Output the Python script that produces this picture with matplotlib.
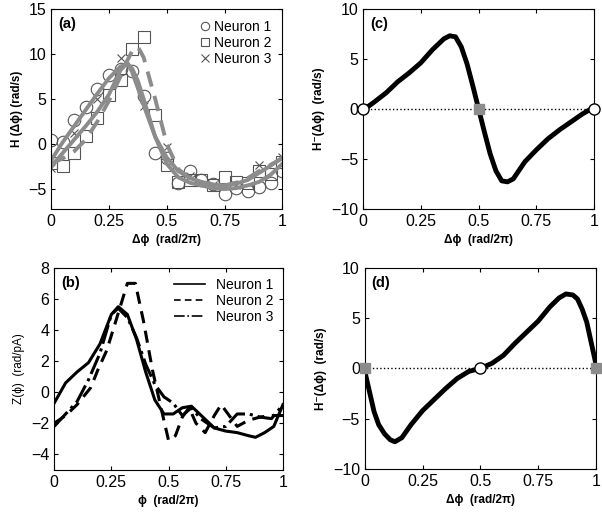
import numpy as np
import matplotlib
matplotlib.use("Agg")
import matplotlib.pyplot as plt

plt.rcParams['font.family'] = ['Liberation Sans', 'DejaVu Sans']
plt.rcParams['font.size'] = 10

# ---- panel (a): measured H and fits ----
a_x1 = [0, 0.05, 0.1, 0.15, 0.2, 0.25, 0.3, 0.35, 0.4, 0.45, 0.5, 0.55, 0.6, 0.65, 0.7, 0.75, 0.8, 0.85, 0.9, 0.95, 1.0]
a_n1 = [0.4, 0.2, 2.7, 4.1, 6.1, 7.7, 8.3, 8.1, 5.3, -1.0, -1.6, -4.3, -3.0, -4.0, -4.4, -5.5, -4.9, -5.2, -4.8, -4.3, -3.0]
a_n2 = [-2.1, -2.4, -1.0, 0.9, 2.9, 5.4, 7.1, 10.5, 11.9, 3.2, -2.3, -4.2, -4.0, -4.0, -4.5, -3.7, -4.2, -4.3, -3.0, -3.3, -2.0]
a_x3 = [0, 0.1, 0.2, 0.3, 0.4, 0.5, 0.6, 0.7, 0.8, 0.9, 1.0]
a_n3 = [-2.7, 1.2, 5.0, 9.5, 4.2, -0.3, -3.6, -4.5, -4.6, -2.3, -1.4]

fit_x = [0, 0.05, 0.1, 0.15, 0.2, 0.25, 0.3, 0.33, 0.35, 0.375, 0.4, 0.45, 0.5, 0.55, 0.6, 0.65, 0.7, 0.75, 0.8, 0.85, 0.9, 0.95, 1.0]
fit1 = [-1.8, 0.2, 2.0, 3.8, 5.6, 7.3, 8.6, 8.9, 8.4, 7.0, 5.0, 0.8, -2.2, -3.7, -4.3, -4.6, -4.9, -5.0, -4.9, -4.6, -4.2, -3.4, -2.2]
fit2 = [-2.2, -1.6, -0.8, 0.5, 2.5, 4.8, 7.5, 9.3, 10.3, 10.8, 9.6, 5.0, 0.0, -2.8, -3.8, -4.3, -4.5, -4.6, -4.3, -3.8, -3.0, -2.3, -1.6]
fit3 = [-2.5, -1.0, 0.5, 2.0, 3.6, 5.5, 8.2, 9.0, 8.0, 6.2, 4.3, 0.8, -1.5, -3.0, -3.8, -4.2, -4.5, -4.6, -4.4, -4.0, -3.2, -2.4, -1.5]

# ---- panel (b): PRCs ----
b_x1 = [0, 0.05, 0.1, 0.15, 0.2, 0.25, 0.28, 0.32, 0.36, 0.4, 0.44, 0.48, 0.52, 0.56, 0.6, 0.65, 0.7, 0.75, 0.8, 0.85, 0.88, 0.92, 0.96, 1.0]
b_n1 = [-0.7, 0.6, 1.3, 1.9, 3.1, 5.0, 5.5, 5.0, 3.4, 1.3, -0.5, -1.4, -1.4, -1.0, -0.9, -1.6, -2.3, -2.5, -2.6, -2.8, -2.9, -2.6, -2.2, -0.8]
b_x2 = [0, 0.05, 0.1, 0.16, 0.19, 0.23, 0.27, 0.32, 0.355, 0.39, 0.43, 0.47, 0.5, 0.53, 0.56, 0.59, 0.62, 0.66, 0.7, 0.73, 0.77, 0.8, 0.85, 0.9, 0.95, 1.0]
b_n2 = [-2.0, -1.5, -0.8, 0.3, 1.4, 2.7, 4.6, 7.0, 7.0, 4.6, 1.4, -1.2, -3.1, -2.8, -1.6, -1.0, -2.0, -2.6, -1.5, -0.8, -1.6, -2.2, -1.8, -1.6, -1.5, -1.5]
b_x3 = [0, 0.05, 0.1, 0.15, 0.2, 0.25, 0.28, 0.32, 0.36, 0.4, 0.44, 0.48, 0.52, 0.56, 0.6, 0.64, 0.7, 0.75, 0.8, 0.85, 0.9, 0.95, 1.0]
b_n3 = [-2.2, -1.4, -0.6, 0.8, 2.5, 5.0, 5.4, 4.8, 3.5, 1.8, 0.5, -0.3, -0.7, -1.5, -1.0, -1.7, -2.3, -2.2, -1.4, -1.4, -1.6, -1.7, -0.8]

# ---- panel (c) and (d): odd part of H ----
c_x = [0, 0.02, 0.05, 0.1, 0.15, 0.2, 0.25, 0.3, 0.35, 0.375, 0.4, 0.425, 0.45, 0.475, 0.5, 0.525, 0.55, 0.575, 0.6, 0.625, 0.65, 0.7, 0.75, 0.8, 0.85, 0.9, 0.95, 0.98, 1.0]
c_y = [0, 0.2, 0.7, 1.6, 2.7, 3.6, 4.6, 5.9, 7.0, 7.3, 7.2, 6.2, 4.5, 2.3, 0, -2.3, -4.5, -6.2, -7.2, -7.3, -7.0, -5.3, -4.1, -3.0, -2.1, -1.3, -0.5, -0.1, 0]
d_x = [0, 0.02, 0.04, 0.06, 0.085, 0.11, 0.13, 0.16, 0.2, 0.25, 0.3, 0.35, 0.4, 0.45, 0.5, 0.55, 0.6, 0.65, 0.7, 0.75, 0.8, 0.84, 0.87, 0.9, 0.92, 0.94, 0.96, 0.98, 1.0]
d_y = [-0.3, -2.3, -4.3, -5.6, -6.5, -7.1, -7.3, -6.9, -5.6, -4.2, -3.1, -2.0, -1.0, -0.3, 0, 0.5, 1.3, 2.5, 3.6, 4.7, 6.1, 7.0, 7.4, 7.3, 6.9, 5.9, 4.6, 2.5, 0.4]

xticks = [0, 0.25, 0.5, 0.75, 1]
xticklabels = ['0', '0.25', '0.5', '0.75', '1']
gray = '#8c8c8c'
lab_fs = 8.5
tick_fs = 11.5

fig = plt.figure(figsize=(6.02, 5.17), dpi=100)
axA = fig.add_axes([0.085, 0.596, 0.384, 0.387])
axC = fig.add_axes([0.603, 0.596, 0.384, 0.387])
axB = fig.add_axes([0.090, 0.091, 0.380, 0.391])
axD = fig.add_axes([0.606, 0.093, 0.384, 0.389])


def style(ax):
    ax.set_xlim(0, 1)
    ax.set_xticks(xticks)
    ax.set_xticklabels(xticklabels)
    ax.tick_params(direction='in', top=True, right=True, length=3, labelsize=tick_fs)
    for s in ax.spines.values():
        s.set_linewidth(0.8)


def panel_label(ax, s):
    ax.text(0.03, 0.96, s, transform=ax.transAxes, fontweight='bold', fontsize=10.5, va='top')


# (a)
axA.plot(a_x1, a_n1, 'o', ms=9, mfc='none', mec='#555555', mew=0.8, label='Neuron 1')
axA.plot(a_x1, a_n2, 's', ms=8, mfc='none', mec='#555555', mew=0.8, label='Neuron 2')
axA.plot(a_x3, a_n3, 'x', ms=6, mec='#555555', mew=0.8, label='Neuron 3')
axA.plot(fit_x, fit1, '-', color=gray, lw=2.8)
axA.plot(fit_x, fit3, '-', color=gray, lw=2.8)
axA.plot(fit_x, fit2, '--', color=gray, lw=2.8, dashes=(4, 2.5))
style(axA)
axA.set_ylim(-7.2, 15)
axA.set_yticks([-5, 0, 5, 10, 15])
axA.set_yticklabels(['\u22125', '0', '5', '10', '15'])
axA.set_xlabel('\u0394\u03d5  (rad/2\u03c0)', fontweight='bold', fontsize=lab_fs)
axA.set_ylabel('H (\u0394\u03d5) (rad/s)', fontweight='bold', fontsize=lab_fs)
panel_label(axA, '(a)')
legA = axA.legend(loc='upper right', frameon=False, handletextpad=0.1, handlelength=1.0,
                  borderaxespad=0.4, labelspacing=0.15, fontsize=10)
for h in legA.get_lines():
    h.set_markersize(6)

# (b)
axB.plot(b_x1, b_n1, '-', color='black', lw=2.2, label='Neuron 1')
axB.plot(b_x2, b_n2, '--', color='black', lw=2.2, dashes=(4, 2.5), label='Neuron 2')
axB.plot(b_x3, b_n3, '-.', color='black', lw=2.2, label='Neuron 3')
style(axB)
axB.set_ylim(-5, 8)
axB.set_yticks([-4, -2, 0, 2, 4, 6, 8])
axB.set_yticklabels(['\u22124', '\u22122', '0', '2', '4', '6', '8'])
axB.set_xlabel('\u03d5  (rad/2\u03c0)', fontweight='bold', fontsize=lab_fs)
axB.set_ylabel('Z(\u03d5)  (rad/pA)', fontsize=lab_fs)
panel_label(axB, '(b)')
legB = axB.legend(loc='upper right', frameon=False, handlelength=2.2, borderaxespad=0.3,
                  labelspacing=0.15, fontsize=10)
for ln in legB.get_lines():
    ln.set_linewidth(1.2)

# (c)
axC.plot([0, 1], [0, 0], ':', color='black', lw=1.0)
axC.plot(c_x, c_y, '-', color='black', lw=3.5)
axC.plot([0, 1], [0, 0], 'o', ms=8, mfc='white', mec='black', mew=1.0, clip_on=False, zorder=5)
axC.plot([0.5], [0], 's', ms=7, mfc=gray, mec=gray, zorder=5)
style(axC)
axC.set_ylim(-10, 10)
axC.set_yticks([-10, -5, 0, 5, 10])
axC.set_xlabel('\u0394\u03d5  (rad/2\u03c0)', fontweight='bold', fontsize=lab_fs)
axC.set_ylabel('H\u207b(\u0394\u03d5)  (rad/s)', fontweight='bold', fontsize=lab_fs)
panel_label(axC, '(c)')

# (d)
axD.plot([0, 1], [0, 0], ':', color='black', lw=1.0)
axD.plot(d_x, d_y, '-', color='black', lw=3.5)
axD.plot([0, 1], [0, 0], 's', ms=7, mfc=gray, mec=gray, clip_on=False, zorder=5)
axD.plot([0.5], [0], 'o', ms=8, mfc='white', mec='black', mew=1.0, zorder=5)
style(axD)
axD.set_ylim(-10, 10)
axD.set_yticks([-10, -5, 0, 5, 10])
axD.set_xlabel('\u0394\u03d5  (rad/2\u03c0)', fontweight='bold', fontsize=lab_fs)
axD.set_ylabel('H\u207b(\u0394\u03d5)  (rad/s)', fontweight='bold', fontsize=lab_fs)
panel_label(axD, '(d)')

fig.savefig('out.png', dpi=100)
